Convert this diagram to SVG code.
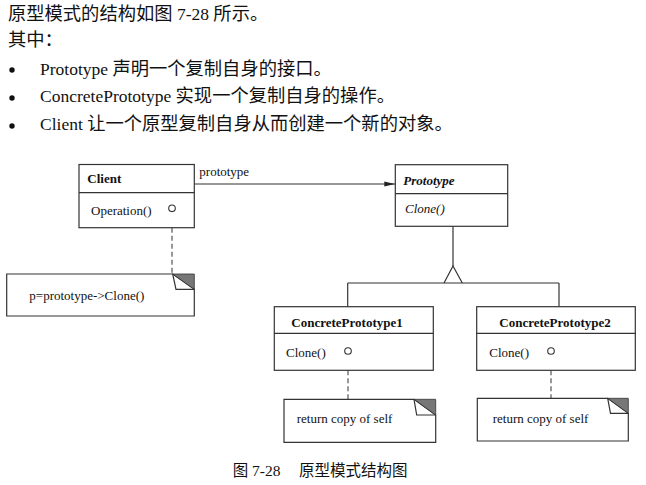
<svg xmlns="http://www.w3.org/2000/svg" width="646" height="485" viewBox="0 0 646 485">
<style>
.t{font-family:"Liberation Serif","Noto Sans CJK SC",serif;fill:#111}
.top{font-size:17.5px}
.cj{font-size:18.3px}
.d{font-size:13px}
.b{font-weight:bold}
.i{font-style:italic}
.box{fill:#fff;stroke:#333;stroke-width:1.2}
.ln{fill:none;stroke:#333;stroke-width:1.2}
.dash{fill:none;stroke:#555;stroke-width:1.2;stroke-dasharray:5 3}
.pin{fill:#fff;stroke:#333;stroke-width:1.1}
.ear{fill:#777;stroke:#333;stroke-width:0.8}
</style>
<defs>
<marker id="arr" markerWidth="11" markerHeight="6" refX="11" refY="3" orient="auto" markerUnits="userSpaceOnUse">
<path d="M0,0.6 L11,3 L0,5.4 Z" fill="#222"/>
</marker>
</defs>
<rect width="646" height="485" fill="#fff"/>

<g id="intro">
<text class="t top" x="8" y="19.5"><tspan class="cj">原型模式的结构如图</tspan> 7-28 <tspan class="cj">所示。</tspan></text>
<text class="t top" x="8" y="46"><tspan class="cj">其中：</tspan></text>
<circle cx="12" cy="70" r="2.7" fill="#111"/>
<text class="t top" x="40" y="74.5">Prototype <tspan class="cj">声明一个复制自身的接口。</tspan></text>
<circle cx="12" cy="98" r="2.7" fill="#111"/>
<text class="t top" x="40" y="102">ConcretePrototype <tspan class="cj">实现一个复制自身的操作。</tspan></text>
<circle cx="12" cy="126" r="2.7" fill="#111"/>
<text class="t top" x="40" y="129.5">Client <tspan class="cj">让一个原型复制自身从而创建一个新的对象。</tspan></text>
</g>

<g id="connectors">
<line class="ln" x1="194.3" y1="184" x2="395.3" y2="184" marker-end="url(#arr)"/>
<text class="t d" x="199.3" y="176">prototype</text>
<line class="ln" x1="453" y1="226.3" x2="453" y2="266"/>
<polyline class="ln" points="444,283 453,266 462.3,283"/>
<line class="ln" x1="347.7" y1="283" x2="559" y2="283"/>
<line class="ln" x1="347.7" y1="283" x2="347.7" y2="306.7"/>
<line class="ln" x1="559" y1="283" x2="559" y2="306.7"/>
<line class="dash" x1="172" y1="211.7" x2="172" y2="274"/>
<line class="dash" x1="348" y1="354.3" x2="348" y2="399.3"/>
<line class="dash" x1="551" y1="354.3" x2="551" y2="398.3"/>
</g>

<g id="client">
<rect class="box" x="79" y="164.5" width="115.3" height="63.2"/>
<line class="ln" x1="79" y1="192.7" x2="194.3" y2="192.7"/>
<text class="t d b" x="87.3" y="183">Client</text>
<text class="t d" x="91" y="215">Operation()</text>
<circle class="pin" cx="172" cy="208.3" r="3.3"/>
</g>

<g id="prototype">
<rect class="box" x="395.3" y="164.7" width="112.4" height="61.6"/>
<line class="ln" x1="395.3" y1="193.7" x2="507.7" y2="193.7"/>
<text class="t d b i" x="403.3" y="185">Prototype</text>
<text class="t d i" x="405" y="213">Clone()</text>
</g>

<g id="concrete1">
<rect class="box" x="274.3" y="306.7" width="159" height="63.6"/>
<line class="ln" x1="274.3" y1="333.3" x2="433.3" y2="333.3"/>
<text class="t d b" x="347" y="326.7" text-anchor="middle">ConcretePrototype1</text>
<text class="t d" x="286" y="356.7">Clone()</text>
<circle class="pin" cx="348" cy="351" r="3.3"/>
</g>

<g id="concrete2">
<rect class="box" x="476.7" y="306.7" width="158.6" height="63.6"/>
<line class="ln" x1="476.7" y1="333.3" x2="635.3" y2="333.3"/>
<text class="t d b" x="555" y="326.7" text-anchor="middle">ConcretePrototype2</text>
<text class="t d" x="489.3" y="356.7">Clone()</text>
<circle class="pin" cx="551" cy="351" r="3.3"/>
</g>

<g id="note-client">
<polygon class="box" points="6.7,274 172.7,274 194.3,289.3 194.3,316 6.7,316"/>
<polygon class="ear" points="172.7,274 194.3,274 194.3,289.3"/>
<polyline class="ln" points="172.7,274 176,289.3 194.3,289.3"/>
<text class="t d" x="29.3" y="300">p=prototype-&gt;Clone()</text>
</g>

<g id="note-cp1">
<polygon class="box" points="284,399.3 414,399.3 435.7,415 435.7,442.3 284,442.3"/>
<polygon class="ear" points="414,399.3 435.7,399.3 435.7,415"/>
<polyline class="ln" points="414,399.3 416.7,415 435.7,415"/>
<text class="t d" x="296.7" y="423.3">return copy of self</text>
</g>

<g id="note-cp2">
<polygon class="box" points="477.3,398.3 607.7,398.3 628.3,413.3 628.3,441 477.3,441"/>
<polygon class="ear" points="607.7,398.3 628.3,398.3 628.3,413.3"/>
<polyline class="ln" points="607.7,398.3 610.5,413.3 628.3,413.3"/>
<text class="t d" x="492.7" y="423">return copy of self</text>
</g>

<g id="caption">
<text class="t" font-size="15.5" y="476"><tspan x="232.7">图 7-28</tspan><tspan x="299">原型模式结构图</tspan></text>
</g>
</svg>
